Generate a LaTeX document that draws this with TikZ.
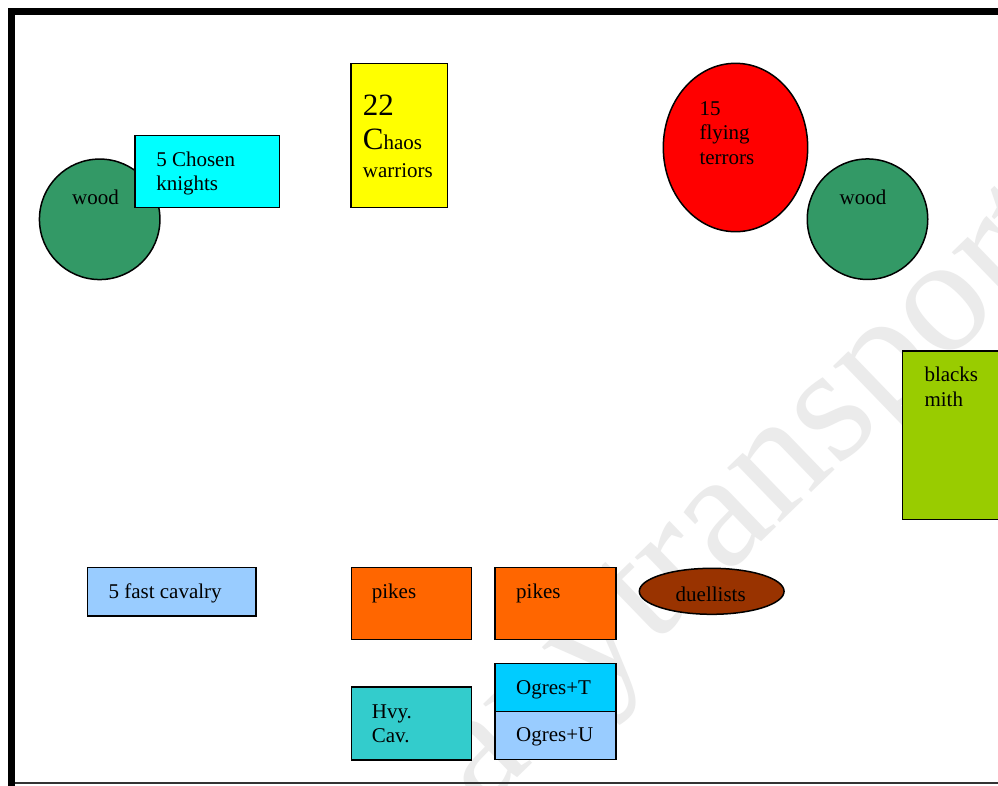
\documentclass[tikz,border=0pt]{standalone}
\usepackage{fontspec}
\setmainfont{Liberation Serif}
\usepackage{tikz}
\usetikzlibrary{shapes.geometric, positioning}
\definecolor{woodgreen}{RGB}{51,153,102}
\definecolor{knightcyan}{RGB}{0,255,255}
\definecolor{chaosyellow}{RGB}{255,255,0}
\definecolor{terrorred}{RGB}{255,0,0}
\definecolor{smithgreen}{RGB}{153,204,0}
\definecolor{lightblue}{RGB}{153,204,255}
\definecolor{pikeorange}{RGB}{255,102,0}
\definecolor{cavteal}{RGB}{51,204,204}
\definecolor{ogreblue}{RGB}{0,204,255}
\definecolor{duelbrown}{RGB}{153,51,0}
\tikzstyle{piece} = [rectangle, draw=black, line width=1.5pt, inner sep=0pt, outer sep=0pt]
\tikzstyle{blob} = [ellipse, draw=black, line width=1.5pt, inner sep=0pt, outer sep=0pt]
\tikzstyle{wood} = [circle, draw=black, line width=1.5pt, fill=woodgreen, minimum size=120.5pt, inner sep=0pt]
\tikzstyle{txt} = [anchor=base west, inner sep=0pt, align=left, font=\fontsize{21}{24.5}\selectfont]

\begin{document}
\begin{tikzpicture}[x=1pt, y=-1pt]
	\clip (0,0) rectangle (998,785);
	\fill[white] (0,0) rectangle (998,785);
	% watermark behind the table
	\node (wmark) [rotate=44, text=gray!16, inner sep=0pt, font=\fontsize{165}{165}\selectfont] at (758,505) {anytransport};
	% table edge
	\draw[line width=7pt] (11.8,790) -- (11.8,11.8) -- (1000,11.8);
	\draw[gray!40!black, line width=1.2pt] (15,783) -- (1000,783);

	% top side (multi-line texts sit on their last line)
	\node (woodL) [wood] at (99.7,219.3) {};
	\node (woodLtxt) [txt, anchor=base] at ([shift={(-4.2,-15.3)}]woodL.center) {wood};
	\node (knights) [piece, fill=knightcyan, minimum width=144.3pt, minimum height=72pt] at (207.2,171.3) {};
	\node (knightsTxt) [txt] at ([shift={(21,55.4)}]knights.north west) {5 Chosen\\knights};
	\node (chaos) [piece, fill=chaosyellow, minimum width=96.7pt, minimum height=144pt] at (399.3,135.3) {};
	\node (chaosTxt) [txt] at ([shift={(11.7,114)}]chaos.north west) {{\fontsize{31}{36}\selectfont 22}\\[9.6pt]{\fontsize{31}{36}\selectfont C}haos\\[3.5pt]warriors};
	\node (terrors) [blob, fill=terrorred, minimum width=144.4pt, minimum height=168.4pt] at (735.5,147.5) {};
	\node (terrorsTxt) [txt] at ([shift={(-36.2,16.8)}]terrors.center) {15\\flying\\terrors};
	\node (woodR) [wood] at (867.5,219.2) {};
	\node (woodRtxt) [txt, anchor=base] at ([shift={(-4.5,-15.2)}]woodR.center) {wood};
	\node (smith) [piece, fill=smithgreen, minimum width=120pt, minimum height=168.3pt] at (962.7,435.2) {};
	\node (smithTxt) [txt] at ([shift={(21.6,55)}]smith.north west) {blacks\\mith};

	% bottom side
	\node (cavalry) [piece, fill=lightblue, minimum width=168.7pt, minimum height=48.7pt] at (171.7,591.7) {};
	\node (cavalryTxt) [txt] at ([shift={(21,31)}]cavalry.north west) {5 fast cavalry};
	\node (pikesA) [piece, fill=pikeorange, minimum width=120.4pt, minimum height=72pt] at (411.5,603.3) {};
	\node (pikesAtxt) [txt] at ([shift={(20.4,31)}]pikesA.north west) {pikes};
	\node (pikesB) [piece, fill=pikeorange, minimum width=121pt, minimum height=72pt] at (555.5,603.3) {};
	\node (pikesBtxt) [txt] at ([shift={(21,31)}]pikesB.north west) {pikes};
	\node (duel) [blob, fill=duelbrown, minimum width=144.7pt, minimum height=46pt] at (711.7,591.3) {};
	\node (duelTxt) [txt, anchor=base] at ([shift={(-1,10.4)}]duel.center) {duellists};
	\node (hvycav) [piece, fill=cavteal, minimum width=120.4pt, minimum height=73pt] at (411.5,723.5) {};
	\node (hvycavTxt) [txt] at ([shift={(20.4,55.7)}]hvycav.north west) {Hvy.\\Cav.};
	\node (ogresT) [piece, fill=ogreblue, minimum width=121pt, minimum height=48.4pt] at (555.5,687.5) {};
	\node (ogresTtxt) [txt] at ([shift={(21,30.7)}]ogresT.north west) {Ogres+T};
	\node (ogresU) [piece, fill=lightblue, minimum width=121pt, minimum height=47.6pt, below=0pt of ogresT] {};
	\node (ogresUtxt) [txt] at ([shift={(21,30)}]ogresU.north west) {Ogres+U};
\end{tikzpicture}
\end{document}
